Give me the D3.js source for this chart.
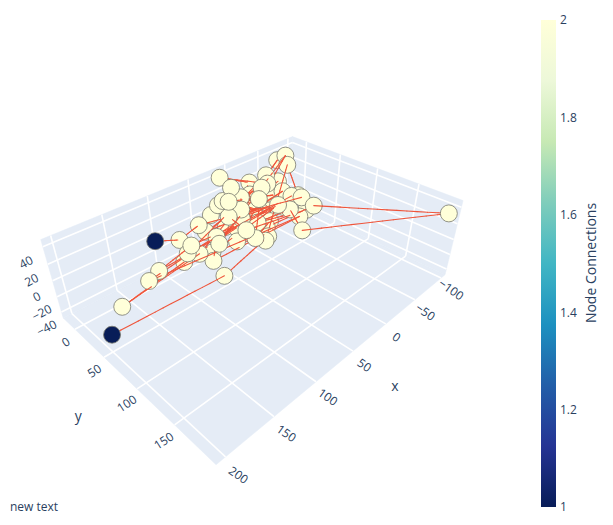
<!DOCTYPE html>
<html>
<head>
<meta charset="utf-8">
<script src="https://cdn.jsdelivr.net/npm/d3@7"></script>
<style>
    body { margin: 0; background: #fff; }
    svg { font-family: "Open Sans", sans-serif; }
</style>
</head>
<body>
<svg id="chart" width="613" height="525"></svg>
<script>
// nodes listed in the order of the chain (each node linked to the next one)
const nodeX = [116, 91, 60, -46, -42, 92, -38, 77, 170, 93, 26, -22, 62, -62, 59, -70, 35, 7, -67, -60,
    54, -50, 33, -30, 13, -19, 28, -48, 136, -38, 67, 57, -48, 123, 89, -31, -14, 21, -20, 24,
    -6, -15, 26, -40, 6, 20, -47, 17, -11, 15, 24, -10, 32, 27, -48, 3, -30, -19, -92, -48,
    -7, 0, 72, 193];
const nodeY = [7, 11, 3, 49, 38, 24, 3, 23, 23, 18, 23, 37, 25, -3, 33, 2, 33, 47, 8, 32,
    6, 10, -10, 13, -16, -4, 8, 19, 19, 54, 32, 27, 23, 18, 27, 17, 33, 46, 14, -8,
    24, 19, 12, 12, 9, 25, 23, 21, 5, 4, 0, 13, 18, 39, 55, 31, 47, 75, 194, 65,
    35, 44, 54, 40];
const nodeZ = [14, 5, 5, 15, 14, -5, 29, -14, -29, -19, -5, 10, -19, 38, -5, 43, -14, -20, 34, 5,
    -5, 19, 0, 25, 38, 24, -10, 10, -19, -5, -24, 0, 0, -14, 5, -10, -10, -10, 24, 10,
    19, -5, 24, 5, 20, 5, -10, 14, 15, 34, 19, 0, 10, 0, 0, -5, 5, -5, 38, 10,
    -14, -19, -29, -38];
const edges = [[0, 1], [1, 2], [2, 3], [3, 4], [4, 5], [5, 6], [6, 7], [7, 8], [8, 9], [9, 10],
    [10, 11], [11, 12], [12, 13], [13, 14], [14, 15], [15, 16], [16, 17], [17, 18], [18, 19], [19, 20],
    [20, 21], [21, 22], [22, 23], [23, 24], [24, 25], [25, 26], [26, 27], [27, 28], [28, 29], [29, 30],
    [30, 31], [31, 32], [32, 33], [33, 34], [34, 35], [35, 36], [36, 37], [37, 38], [38, 39], [39, 40],
    [40, 41], [41, 42], [42, 43], [43, 44], [44, 45], [45, 46], [46, 47], [47, 48], [48, 49], [49, 50],
    [50, 51], [51, 52], [52, 53], [53, 54], [54, 55], [55, 56], [56, 57], [57, 58], [58, 59], [59, 60],
    [60, 61], [61, 62], [62, 63]];

const xTicks = [-100, -50, 0, 50, 100, 150, 200];
const yTicks = [0, 50, 100, 150];
const zTicks = [-40, -20, 0, 20, 40];
const colorTicks = [1, 1.2, 1.4, 1.6, 1.8, 2];
const colorStops = [0, 0.125, 0.25, 0.375, 0.5, 0.625, 0.75, 0.875, 1];
const colorValues = ["rgb(8,29,88)", "rgb(37,52,148)", "rgb(34,94,168)", "rgb(29,145,192)", "rgb(65,182,196)",
    "rgb(127,205,187)", "rgb(199,233,180)", "rgb(237,248,217)", "rgb(255,255,217)"];

// scene settings
const xDomain = [-108, 209], yDomain = [-22, 198], zDomain = [-48, 48];
const aspect = [1.68, 1.17, 0.47];
const boxScale = 0.4;
const eye = [1.25, 1.25, 1.25];
const focal = 537, centerX = 264, centerY = 259;
const textColor = "#2a3f5f";

const svg = d3.select("#chart");

const sx = d3.scaleLinear().domain(xDomain).range([-aspect[0] * boxScale, aspect[0] * boxScale]);
const sy = d3.scaleLinear().domain(yDomain).range([-aspect[1] * boxScale, aspect[1] * boxScale]);
const sz = d3.scaleLinear().domain(zDomain).range([-aspect[2] * boxScale, aspect[2] * boxScale]);

const dot = (a, b) => a[0] * b[0] + a[1] * b[1] + a[2] * b[2];
const eyeLen = Math.hypot(eye[0], eye[1], eye[2]);
const fwd = eye.map(v => -v / eyeLen);
let right = [fwd[1], -fwd[0], 0];
const rLen = Math.hypot(right[0], right[1]);
right = right.map(v => v / rLen);
const up = [
    right[1] * fwd[2] - right[2] * fwd[1],
    right[2] * fwd[0] - right[0] * fwd[2],
    right[0] * fwd[1] - right[1] * fwd[0]
];

function project(x, y, z) {
    const p = [sx(x) - eye[0], sy(y) - eye[1], sz(z) - eye[2]];
    const d = dot(p, fwd);
    return [centerX + focal * dot(p, right) / d, centerY - focal * dot(p, up) / d, d];
}

const [x0, x1] = xDomain, [y0, y1] = yDomain, [z0, z1] = zDomain;
const xr = x1 - x0, yr = y1 - y0, zr = z1 - z0;

// background planes
const planes = [
    [[x0, y0, z0], [x1, y0, z0], [x1, y1, z0], [x0, y1, z0]],
    [[x0, y0, z0], [x1, y0, z0], [x1, y0, z1], [x0, y0, z1]],
    [[x0, y0, z0], [x0, y1, z0], [x0, y1, z1], [x0, y0, z1]]
];
svg.append("g").selectAll("polygon")
    .data(planes)
    .enter()
    .append("polygon")
    .attr("points", d => d.map(c => project(...c).slice(0, 2).join(",")).join(" "))
    .style("fill", "#e5ecf6")
    .style("stroke", "#e5ecf6")
    .style("stroke-width", 0.5);

// grid lines
let grid = [];
xTicks.forEach(t => {
    grid.push([[t, y0, z0], [t, y1, z0]]);
    grid.push([[t, y0, z0], [t, y0, z1]]);
});
yTicks.forEach(t => {
    grid.push([[x0, t, z0], [x1, t, z0]]);
    grid.push([[x0, t, z0], [x0, t, z1]]);
});
zTicks.forEach(t => {
    grid.push([[x0, y0, t], [x1, y0, t]]);
    grid.push([[x0, y0, t], [x0, y1, t]]);
});
svg.append("g").selectAll("line")
    .data(grid)
    .enter()
    .append("line")
    .attr("x1", d => project(...d[0])[0])
    .attr("y1", d => project(...d[0])[1])
    .attr("x2", d => project(...d[1])[0])
    .attr("y2", d => project(...d[1])[1])
    .style("stroke", "#fff")
    .style("stroke-width", 1.6);

// tick labels
const fmt = t => (t < 0 ? "\u2212" + Math.abs(t) : String(t));
let labels = [];
xTicks.forEach(t => labels.push({text: fmt(t), pos: project(t, y1 + 0.06 * yr, z0 - 0.09 * zr), angle: 35}));
yTicks.forEach(t => labels.push({text: fmt(t), pos: project(x1 + 0.035 * xr, t, z0 - 0.1 * zr), angle: -33}));
zTicks.forEach(t => labels.push({text: fmt(t), pos: project(x1 + 0.06 * xr, y0 + 0.03 * yr, t - 0.04 * zr), angle: -28}));

svg.append("g").selectAll("text")
    .data(labels)
    .enter()
    .append("text")
    .attr("transform", d => `translate(${d.pos[0]},${d.pos[1]}) rotate(${d.angle})`)
    .attr("text-anchor", "middle")
    .attr("dy", "0.35em")
    .style("font-size", "12px")
    .style("fill", textColor)
    .text(d => d.text);

// axis titles
const titles = [
    {text: "x", pos: project(20, y1 + 0.14 * yr, z0 - 0.5 * zr)},
    {text: "y", pos: project(x1 + 0.13 * xr, 70, z0 - 0.27 * zr)}
];
svg.append("g").selectAll("text")
    .data(titles)
    .enter()
    .append("text")
    .attr("x", d => d.pos[0])
    .attr("y", d => d.pos[1])
    .attr("text-anchor", "middle")
    .attr("dy", "0.35em")
    .style("font-size", "14px")
    .style("fill", textColor)
    .text(d => d.text);

// node colour by number of connections
const degree = nodeX.map(() => 0);
edges.forEach(e => {
    degree[e[0]] += 1;
    degree[e[1]] += 1;
});
const degExtent = d3.extent(degree);
const color = d3.scaleLinear()
    .domain(colorStops.map(t => degExtent[0] + t * (degExtent[1] - degExtent[0])))
    .range(colorValues);

// edges cut into short pieces so they can be depth sorted with the markers
let items = [];
const pieces = 14;
edges.forEach(e => {
    const a = [nodeX[e[0]], nodeY[e[0]], nodeZ[e[0]]];
    const b = [nodeX[e[1]], nodeY[e[1]], nodeZ[e[1]]];
    const lerp = t => a.map((v, k) => v + (b[k] - v) * t);
    for (let i = 0; i < pieces; i++) {
        const t0 = i / pieces, t1 = (i + 1) / pieces;
        const p0 = project(...lerp(t0)), p1 = project(...lerp(t1)), pm = project(...lerp((t0 + t1) / 2));
        items.push({type: "edge", p0, p1, depth: pm[2]});
    }
});
nodeX.forEach((x, i) => {
    const p = project(x, nodeY[i], nodeZ[i]);
    items.push({type: "node", p, depth: p[2] - 0.004, fill: color(degree[i])});
});
items.sort((a, b) => b.depth - a.depth);

const scene = svg.append("g");
items.forEach(d => {
    if (d.type === "edge") {
        scene.append("line")
            .attr("x1", d.p0[0]).attr("y1", d.p0[1])
            .attr("x2", d.p1[0]).attr("y2", d.p1[1])
            .style("stroke", "#ef553b")
            .style("stroke-width", 1.1)
            .style("stroke-linecap", "round");
    } else {
        scene.append("circle")
            .attr("cx", d.p[0])
            .attr("cy", d.p[1])
            .attr("r", 8.5)
            .style("fill", d.fill)
            .style("stroke", "#7a7a6e")
            .style("stroke-width", 0.8);
    }
});

// colour bar
const defs = svg.append("defs");
const grad = defs.append("linearGradient")
    .attr("id", "cbar")
    .attr("x1", 0).attr("y1", 1).attr("x2", 0).attr("y2", 0);
grad.selectAll("stop")
    .data(colorStops)
    .enter()
    .append("stop")
    .attr("offset", d => d)
    .attr("stop-color", (d, i) => colorValues[i]);

const cbScale = d3.scaleLinear().domain(degExtent).range([507, 20]);
svg.append("rect")
    .attr("x", 541)
    .attr("y", 20)
    .attr("width", 15)
    .attr("height", 487)
    .style("fill", "url(#cbar)");

const cbAxis = svg.append("g")
    .attr("transform", "translate(556,0)")
    .call(d3.axisRight(cbScale).tickValues(colorTicks).tickSize(0).tickPadding(4).tickFormat(d3.format("~g")));
cbAxis.select(".domain").remove();
cbAxis.selectAll("text")
    .style("font-family", "'Open Sans', sans-serif")
    .style("font-size", "12px")
    .style("fill", textColor);

svg.append("text")
    .attr("transform", "translate(596,263) rotate(-90)")
    .attr("text-anchor", "middle")
    .style("font-size", "14px")
    .style("fill", textColor)
    .text("Node Connections");

svg.append("text")
    .attr("x", 10)
    .attr("y", 511)
    .style("font-size", "12px")
    .style("fill", textColor)
    .text("new text");
</script>
</body>
</html>
